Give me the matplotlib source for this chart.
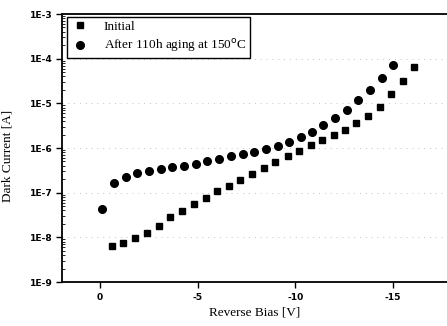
import matplotlib
matplotlib.use("Agg")
import matplotlib.pyplot as plt
from matplotlib.ticker import LogLocator, FixedLocator, NullFormatter

# Data
v_initial = [-0.60, -1.19, -1.81, -2.41, -3.01, -3.60, -4.21, -4.81, -5.41, -6.01,
             -6.62, -7.18, -7.80, -8.40, -8.96, -9.61, -10.20, -10.80, -11.37, -11.98,
             -12.56, -13.12, -13.72, -14.32, -14.92, -15.51, -16.09]
i_initial = [6.4e-9, 7.3e-9, 9.8e-9, 1.27e-8, 1.82e-8, 2.8e-8, 3.94e-8, 5.57e-8, 7.48e-8, 1.07e-7,
             1.41e-7, 1.89e-7, 2.65e-7, 3.62e-7, 4.79e-7, 6.63e-7, 8.43e-7, 1.15e-6, 1.49e-6, 1.95e-6,
             2.56e-6, 3.62e-6, 5.28e-6, 8.39e-6, 1.59e-5, 3.11e-5, 6.4e-5]

v_aged = [-0.09, -0.72, -1.32, -1.91, -2.51, -3.11, -3.70, -4.30, -4.90, -5.49,
          -6.11, -6.71, -7.31, -7.90, -8.48, -9.10, -9.69, -10.29, -10.85, -11.43,
          -12.05, -12.63, -13.23, -13.82, -14.42, -15.02]
i_aged = [4.3e-8, 1.62e-7, 2.28e-7, 2.75e-7, 3.05e-7, 3.39e-7, 3.70e-7, 3.95e-7, 4.45e-7, 5.12e-7,
          5.75e-7, 6.52e-7, 7.23e-7, 8.02e-7, 9.48e-7, 1.12e-6, 1.38e-6, 1.73e-6, 2.28e-6, 3.22e-6,
          4.62e-6, 6.98e-6, 1.19e-5, 2.02e-5, 3.69e-5, 7.10e-5]

x_ticks = [0, -5, -10, -15]
x_tick_labels = ["0", "-5", "-10", "-15"]
y_ticks = [1e-9, 1e-8, 1e-7, 1e-6, 1e-5, 1e-4, 1e-3]
y_tick_labels = ["1E-9", "1E-8", "1E-7", "1E-6", "1E-5", "1E-4", "1E-3"]

serif = "Liberation Serif"
sans = "DejaVu Sans"

fig = plt.figure(figsize=(4.47, 3.26), dpi=100)
ax = fig.add_axes([62/447, 1 - 282/326, 1 - 62/447, (282 - 14)/326])

ax.set_yscale("log")
ax.set_xlim(1.95, -17.77)
ax.set_ylim(1e-9, 1e-3)

for y in y_ticks[1:-1]:
    ax.axhline(y, color="#b0b0b0", lw=0.6, ls=(0, (1, 6)), zorder=0)

ax.plot(v_initial, i_initial, ls="none", marker="s", ms=5, color="black", label="Initial")
ax.plot(v_aged, i_aged, ls="none", marker="o", ms=5.5, color="black",
        label="After 110h aging at 150$^{\\mathrm{o}}$C")

ax.xaxis.set_major_locator(FixedLocator(x_ticks))
ax.set_xticklabels(x_tick_labels, fontfamily=sans, fontweight="bold", fontsize=6.6)
ax.yaxis.set_major_locator(FixedLocator(y_ticks))
ax.set_yticklabels(y_tick_labels, fontfamily=sans, fontweight="bold", fontsize=6.6)
ax.yaxis.set_minor_locator(LogLocator(base=10, subs=range(2, 10), numticks=20))
ax.yaxis.set_minor_formatter(NullFormatter())

ax.tick_params(axis="both", which="major", direction="out", length=4, width=1, pad=2.5)
ax.tick_params(axis="x", which="major", pad=4)
ax.tick_params(axis="y", which="minor", direction="in", length=2, width=0.6)

for s in ["left", "bottom", "top"]:
    ax.spines[s].set_linewidth(1.3)
ax.spines["right"].set_visible(False)

ax.set_xlabel("Reverse Bias [V]", fontfamily=serif, fontsize=9.5, labelpad=3)
ax.set_ylabel("Dark Current [A]", fontfamily=serif, fontsize=9.5, labelpad=6)
ax.yaxis.set_label_coords(-0.125, 0.47)

leg = ax.legend(loc="upper left", bbox_to_anchor=(0.012, 0.99), frameon=True, fancybox=False,
                edgecolor="black", framealpha=1, prop={"family": serif, "size": 9.5},
                handletextpad=1.0, handlelength=1.5, borderpad=0.3, labelspacing=0.35,
                borderaxespad=0)
leg.get_frame().set_linewidth(1.0)

fig.savefig("out.png", dpi=100)
